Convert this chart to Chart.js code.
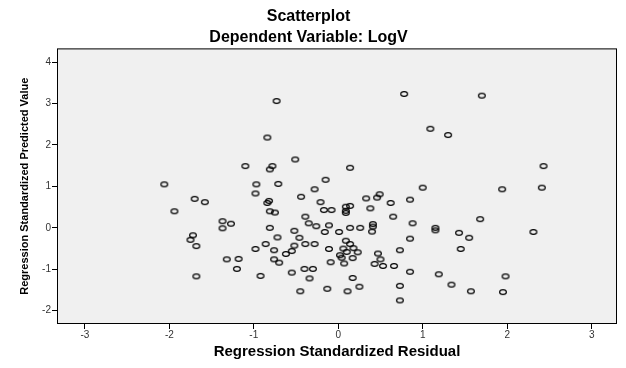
<!DOCTYPE html>
<html>
<head>
<meta charset="utf-8">
<script src="https://cdn.jsdelivr.net/npm/chart.js@4"></script>
<style>
  body { margin: 0; background: #fff; }
</style>
</head>
<body>
<canvas id="scatterChart" width="626" height="368"></canvas>
<script>
// Values
const residual = [
  -0.73, 0.78, 1.70, -0.84, 1.09, 1.30, -1.10, -0.51, -0.78, -0.81,
  0.14, 2.43, -2.06, -0.97, -0.71, -0.15, -0.28, 1.00, 1.94, 2.41,
  -0.98, -1.70, -1.58, -1.94, -1.37, -1.27, -1.37, -1.72, -1.75, -1.68,
  -0.98, -1.32, -1.18, -1.20, -1.68, -0.92, 1.68, 1.43, 1.55, 2.31,
  1.45, 1.19, 1.98, 1.34, 1.57, 1.95, -0.44, -0.84, -0.82, -0.21,
  0.33, 0.46, 0.49, 0.62, 0.85, -0.81, -0.75, -0.17, -0.08, 0.09,
  0.14, 0.09, 0.09, 0.38, 0.65, -0.39, -0.35, -0.26, -0.11, -0.81,
  -0.52, -0.16, 0.01, 0.14, 0.26, 0.41, 0.41, 0.40, 0.88, 1.15,
  1.15, -0.72, -0.46, 0.85, -0.86, -0.52, -0.39, -0.28, 0.09, 0.14,
  0.18, -0.76, -0.55, -0.62, -0.11, 0.06, 0.10, 0.23, 0.02, 0.04,
  0.17, 0.47, 0.50, 0.73, -0.76, -0.70, -0.09, 0.07, 0.43, 0.53,
  0.66, -0.40, -0.30, -0.55, 0.85, -0.34, 0.17, 0.25, -0.13, -0.45,
  0.11, 0.73, 0.73
];
const predicted = [
  3.06, 3.23, 3.19, 2.18, 2.39, 2.24, 1.49, 1.65, 1.49, 1.41,
  1.45, 1.49, 1.05, 1.05, 1.06, 1.16, 0.93, 0.97, 0.93, 0.97,
  0.83, 0.70, 0.62, 0.40, 0.16, 0.10, -0.01, -0.18, -0.29, -0.44,
  -0.51, -0.76, -0.75, -0.99, -1.17, -1.16, 0.21, -0.12, -0.24, -0.10,
  -0.51, -1.12, -1.17, -1.37, -1.53, -1.55, 0.75, 0.60, 0.65, 0.62,
  0.71, 0.73, 0.81, 0.60, 0.68, 0.40, 0.37, 0.43, 0.43, 0.51,
  0.53, 0.41, 0.36, 0.47, 0.27, 0.27, 0.11, 0.04, 0.06, 0.00,
  -0.07, -0.10, -0.10, 0.00, 0.00, 0.09, 0.03, -0.09, 0.11, 0.00,
  -0.06, -0.23, -0.24, -0.26, -0.39, -0.43, -0.39, -0.39, -0.31, -0.39,
  -0.49, -0.54, -0.56, -0.63, -0.51, -0.50, -0.58, -0.59, -0.66, -0.72,
  -0.73, -0.62, -0.76, -0.54, -0.76, -0.84, -0.83, -0.86, -0.87, -0.92,
  -0.92, -0.99, -0.99, -1.08, -1.06, -1.22, -1.21, -1.42, -1.47, -1.53,
  -1.53, -1.40, -1.75
];
const xTicks = [-3, -2, -1, 0, 1, 2, 3];
const yTicks = [-2, -1, 0, 1, 2, 3, 4];

const points = residual.map((x, i) => ({ x: x, y: predicted[i] }));

// small open ellipse like the SPSS marker
const marker = document.createElement('canvas');
marker.width = 10;
marker.height = 8;
const mctx = marker.getContext('2d');
mctx.strokeStyle = '#000';
mctx.lineWidth = 1.15;
mctx.beginPath();
mctx.ellipse(5, 4, 3.4, 2.4, 0, 0, Math.PI * 2);
mctx.stroke();

// grey plot background and black frame
const frame = {
  id: 'frame',
  beforeDatasetsDraw(chart) {
    const a = chart.chartArea;
    const ctx = chart.ctx;
    ctx.save();
    ctx.fillStyle = '#f0f0f0';
    ctx.fillRect(a.left, a.top, a.right - a.left, a.bottom - a.top);
    ctx.restore();
  },
  afterDraw(chart) {
    const a = chart.chartArea;
    const ctx = chart.ctx;
    ctx.save();
    ctx.strokeStyle = '#000';
    ctx.lineWidth = 1;
    ctx.strokeRect(a.left + 0.5, a.top + 0.5, a.right - a.left - 1, a.bottom - a.top - 1);
    ctx.restore();
  }
};

const tickFont = { family: 'Arial, "Liberation Sans"', size: 10 };
const titleFont = { family: 'Arial, "Liberation Sans"', size: 16, weight: 'bold' };

new Chart(document.getElementById('scatterChart'), {
  type: 'scatter',
  data: {
    datasets: [{
      data: points,
      pointStyle: marker,
      pointRadius: 4
    }]
  },
  options: {
    responsive: false,
    animation: false,
    layout: { padding: { left: 0, right: 9, top: 0, bottom: 0 } },
    plugins: {
      legend: { display: false },
      tooltip: { enabled: false },
      title: {
        display: true,
        text: 'Scatterplot',
        color: '#000',
        font: titleFont,
        padding: { top: 7, bottom: 2 }
      },
      subtitle: {
        display: true,
        text: 'Dependent Variable: LogV',
        color: '#000',
        font: titleFont,
        padding: { top: 0, bottom: 1 }
      }
    },
    scales: {
      x: {
        type: 'linear',
        min: -3.33,
        max: 3.30,
        afterBuildTicks: scale => { scale.ticks = xTicks.map(v => ({ value: v })); },
        afterFit: scale => { scale.height = 44; },
        ticks: { color: '#333', font: tickFont, padding: 0, maxRotation: 0 },
        grid: { display: true, drawOnChartArea: false, drawTicks: true, tickLength: 5, color: '#000' },
        border: { display: false },
        title: {
          display: true,
          text: 'Regression Standardized Residual',
          color: '#000',
          font: { family: 'Arial, "Liberation Sans"', size: 15, weight: 'bold' },
          padding: { top: 0, bottom: 7 }
        }
      },
      y: {
        type: 'linear',
        min: -2.32,
        max: 4.33,
        afterBuildTicks: scale => { scale.ticks = yTicks.map(v => ({ value: v })); },
        afterFit: scale => { scale.width = 57; },
        ticks: { color: '#333', font: tickFont, padding: 1 },
        grid: { display: true, drawOnChartArea: false, drawTicks: true, tickLength: 5, color: '#000' },
        border: { display: false },
        title: {
          display: true,
          text: 'Regression Standardized Predicted Value',
          color: '#000',
          font: { family: 'Arial, "Liberation Sans"', size: 11, weight: 'bold' },
          padding: { top: 18, bottom: 0 }
        }
      }
    }
  },
  plugins: [frame]
});
</script>
</body>
</html>
